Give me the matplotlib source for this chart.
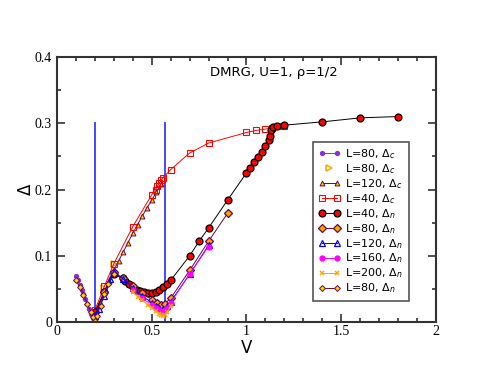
import matplotlib
matplotlib.use("Agg")
import matplotlib.pyplot as plt
from matplotlib.legend_handler import HandlerLine2D

# -----------------------------
# Data
# -----------------------------
v_c80 = [0.10, 0.11, 0.12, 0.13, 0.14, 0.15, 0.16, 0.17, 0.18, 0.19, 0.20]
d_c80 = [0.070, 0.063, 0.056, 0.049, 0.042, 0.035, 0.027, 0.020, 0.012, 0.006, 0.002]

v_c80b = [0.20, 0.25, 0.30]
d_c80b = [0.016, 0.052, 0.088]

v_c120 = [0.20, 0.225, 0.25, 0.275, 0.30, 0.325, 0.35, 0.375, 0.40, 0.425,
          0.45, 0.475, 0.50, 0.525, 0.55]
d_c120 = [0.014, 0.030, 0.046, 0.062, 0.078, 0.092, 0.106, 0.120, 0.134, 0.147,
          0.160, 0.172, 0.184, 0.196, 0.208]

v_c40 = [0.20, 0.25, 0.30, 0.40, 0.50, 0.52, 0.53, 0.54, 0.55, 0.56, 0.60,
         0.70, 0.80, 1.00, 1.05, 1.10, 1.135, 1.17, 1.20]
d_c40 = [0.018, 0.054, 0.088, 0.144, 0.192, 0.200, 0.205, 0.210, 0.214, 0.218, 0.230,
         0.255, 0.270, 0.286, 0.289, 0.291, 0.293, 0.295, 0.296]

v_n40 = [0.20, 0.25, 0.30, 0.35, 0.36, 0.38, 0.40, 0.42, 0.44, 0.46, 0.48, 0.50,
         0.52, 0.54, 0.56, 0.58, 0.60, 0.70, 0.75, 0.80, 0.90, 1.00, 1.02, 1.04,
         1.06, 1.08, 1.10, 1.12, 1.125, 1.13, 1.14, 1.16, 1.20, 1.40, 1.60, 1.80]
d_n40 = [0.015, 0.045, 0.072, 0.066, 0.062, 0.057, 0.053, 0.049, 0.047, 0.045, 0.044, 0.044,
         0.046, 0.049, 0.053, 0.058, 0.063, 0.100, 0.122, 0.142, 0.184, 0.225, 0.233, 0.241,
         0.249, 0.257, 0.266, 0.275, 0.281, 0.290, 0.294, 0.296, 0.297, 0.302, 0.308, 0.310]

v_n80 = [0.20, 0.25, 0.30, 0.35, 0.40, 0.45, 0.50, 0.53, 0.55, 0.57, 0.60, 0.70, 0.80, 0.90]
d_n80 = [0.010, 0.045, 0.075, 0.066, 0.055, 0.044, 0.034, 0.029, 0.026, 0.028, 0.036, 0.078, 0.122, 0.164]

v_n120 = [0.20, 0.22, 0.25, 0.28, 0.30, 0.35, 0.40, 0.45, 0.50, 0.52, 0.54, 0.56, 0.58, 0.60, 0.70, 0.80]
d_n120 = [0.010, 0.020, 0.040, 0.065, 0.075, 0.065, 0.052, 0.040, 0.029, 0.025, 0.022, 0.020, 0.025, 0.031, 0.072, 0.116]

v_n160 = [0.40, 0.45, 0.50, 0.52, 0.54, 0.55, 0.56, 0.57, 0.58, 0.60, 0.70, 0.80]
d_n160 = [0.048, 0.036, 0.026, 0.021, 0.018, 0.016, 0.016, 0.018, 0.022, 0.029, 0.073, 0.114]

v_n200 = [0.40, 0.43, 0.45, 0.48, 0.50, 0.52, 0.54, 0.55, 0.56, 0.57, 0.58, 0.60]
d_n200 = [0.045, 0.038, 0.033, 0.026, 0.021, 0.017, 0.013, 0.011, 0.010, 0.011, 0.015, 0.024]

v_n80b = [0.10, 0.12, 0.14, 0.16, 0.18, 0.19, 0.20, 0.21, 0.23, 0.25, 0.27, 0.30]
d_n80b = [0.063, 0.053, 0.041, 0.028, 0.015, 0.008, 0.002, 0.010, 0.025, 0.043, 0.058, 0.073]

v_lines = [0.20, 0.57]

# -----------------------------
# Plot
# -----------------------------
fig = plt.figure(figsize=(4.91, 3.79), dpi=100)
ax = fig.add_axes([0.116, 0.150, 0.772, 0.700])

for v in v_lines:
    ax.plot([v, v], [0, 0.3], color="#4848ff", lw=1.4, zorder=1)

maroon = "#670748"
ax.plot(v_c80, d_c80, color="#8a2be2", lw=0.7, marker="o", ms=2.8, label=r"L=80, Δ$_c$")
h_tri = ax.plot(v_c80b, d_c80b, ls="none", marker=">", ms=4.5, mfc="none", mec="#ffa500",
                mew=1.1, label=r"L=80, Δ$_c$")[0]
ax.plot(v_c120, d_c120, color=maroon, lw=0.7, marker="^", ms=3.5, mfc="#ffcc00", mec=maroon,
        mew=0.7, label=r"L=120, Δ$_c$")
ax.plot(v_c40, d_c40, color="#ff0000", lw=0.7, marker="s", ms=5, mfc="none", mec="#ff0000",
        mew=0.8, label=r"L=40, Δ$_c$")
ax.plot(v_n40, d_n40, color="black", lw=0.7, marker="o", ms=5, mfc="#ff0000", mec="black",
        mew=0.9, label=r"L=40, Δ$_n$")
ax.plot(v_n80, d_n80, color=maroon, lw=0.7, marker="D", ms=4.5, mfc="#ffa500", mec=maroon,
        mew=0.9, label=r"L=80, Δ$_n$")
ax.plot(v_n120, d_n120, color="#0000ff", lw=0.7, marker="^", ms=4.2, mfc="none", mec="#0000ff",
        mew=0.9, label=r"L=120, Δ$_n$")
ax.plot(v_n160, d_n160, color="#ff00ff", lw=0.7, marker="o", ms=3.5, mfc="#ff00ff", mec="#ff00ff",
        label=r"L=160, Δ$_n$")
ax.plot(v_n200, d_n200, color="#ffa500", lw=0.7, marker="x", ms=3.5, mew=1.1,
        label=r"L=200, Δ$_n$")
ax.plot(v_n80b, d_n80b, color=maroon, lw=0.7, marker="D", ms=3, mfc="#ffd700", mec=maroon,
        mew=0.7, label=r"L=80, Δ$_n$")

ax.set_xlim(0, 2)
ax.set_ylim(0, 0.4)
ax.set_xticks([0, 0.5, 1, 1.5, 2])
ax.set_xticklabels(["0", "0.5", "1", "1.5", "2"])
ax.set_yticks([0, 0.1, 0.2, 0.3, 0.4])
ax.set_yticklabels(["0", "0.1", "0.2", "0.3", "0.4"])
ax.set_xticks([i * 0.1 for i in range(21)], minor=True)
ax.set_yticks([i * 0.05 for i in range(9)], minor=True)
ax.tick_params(which="both", direction="in", top=True, right=True, color="#333333", width=1.2)
ax.tick_params(which="major", length=6)
ax.tick_params(which="minor", length=3)
for lab in ax.get_xticklabels() + ax.get_yticklabels():
    lab.set_family("Liberation Serif")
    lab.set_fontsize(10)
ax.tick_params(axis="x", pad=2)
for s in ax.spines.values():
    s.set_color("#333333")
    s.set_linewidth(1.5)

ax.set_xlabel("V", fontsize=12, labelpad=1)
ax.set_ylabel("Δ", fontsize=12, labelpad=0)
ax.text(0.81, 0.376, "DMRG, U=1, ρ=1/2", fontsize=9.5, va="center")

leg = ax.legend(loc="upper left", bbox_to_anchor=(0.675, 0.68), fontsize=8,
                numpoints=2, handlelength=2.0, handletextpad=0.4, labelspacing=0.1,
                borderpad=0.5, borderaxespad=0, fancybox=False, framealpha=1,
                handler_map={h_tri: HandlerLine2D(numpoints=1)})
leg.get_frame().set_edgecolor("#555555")
leg.get_frame().set_linewidth(1.2)

plt.savefig("out.png", dpi=100)
